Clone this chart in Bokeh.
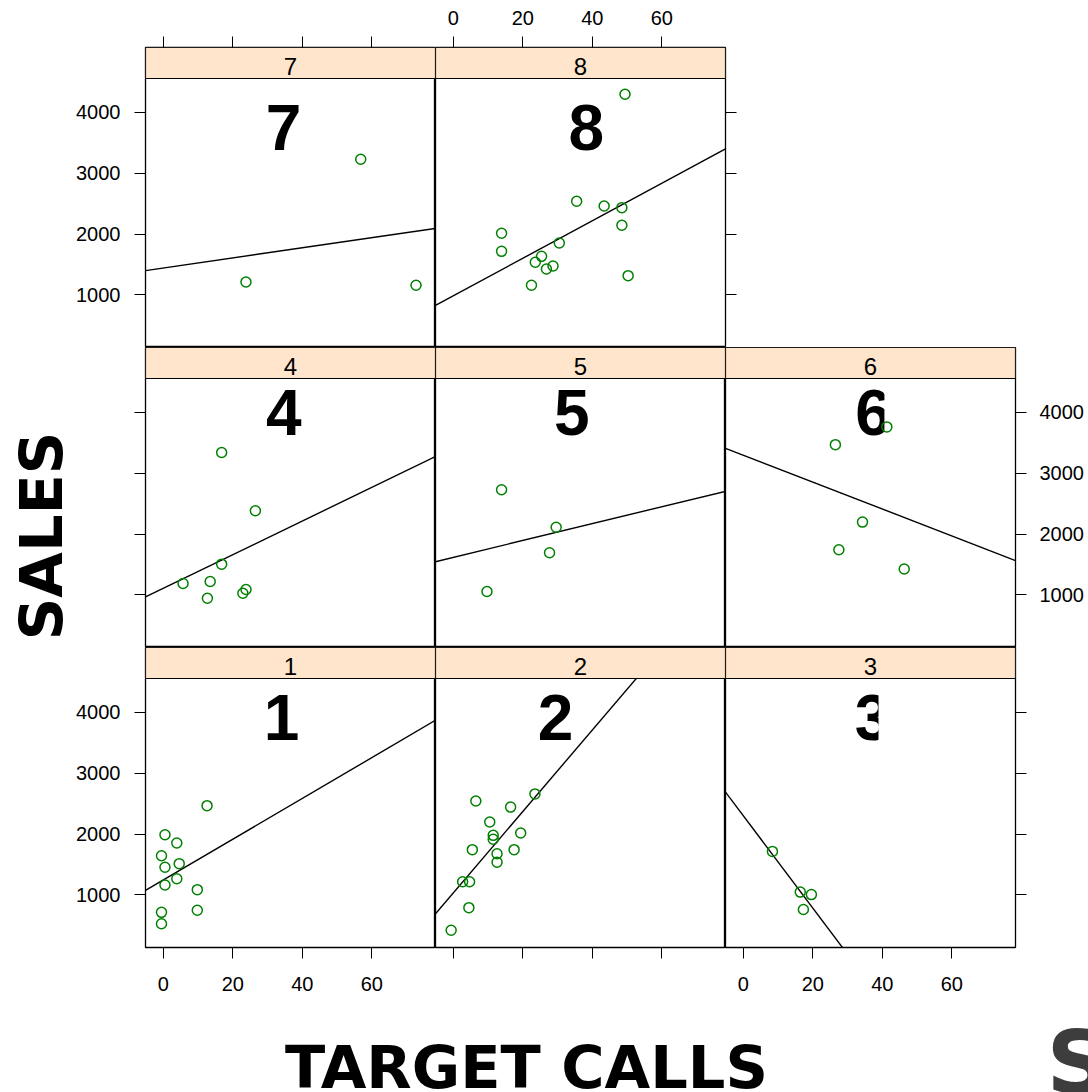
import numpy as np
from bokeh.plotting import figure
from bokeh.models import Range1d, LinearAxis, FixedTicker, Label
from bokeh.core.properties import value
from bokeh.layouts import row, column
from bokeh.embed import file_html
from bokeh.resources import INLINE

# ---- data: target calls vs. sales, one panel per territory ----
calls_t1 = [12.6, 0.5, 3.9, -0.5, 0.5, 4.6, 3.9, 0.5, 9.8, 9.8, -0.5, -0.5]
sales_t1 = [2466, 1989, 1853, 1644, 1454, 1513, 1266, 1163, 1086, 747, 714, 527]

calls_t2 = [-0.6, 4.5, 2.7, 4.7, 5.5, 6.5, 10.5, 11.5, 11.5, 12.6, 12.6, 16.5, 19.4, 17.5, 23.5]
sales_t2 = [419, 790, 1217, 1217, 1743, 2543, 2198, 1979, 1914, 1677, 1536, 2443, 2017, 1743, 2659]

calls_t3 = [8.4, 16.4, 19.6, 17.3]
sales_t3 = [1715, 1046, 1005, 760]

calls_t4 = [16.8, 26.5, 16.8, 5.7, 13.5, 12.7, 23.8, 22.9]
sales_t4 = [3340, 2382, 1505, 1187, 1220, 946, 1089, 1028]

calls_t5 = [13.9, 29.6, 27.7, 9.7]
sales_t5 = [2727, 2112, 1692, 1056]

calls_t6 = [26.5, 41.3, 34.3, 27.5, 46.3]
sales_t6 = [3468, 3760, 2196, 1741, 1425]

calls_t7 = [23.8, 56.8, 72.7]
sales_t7 = [1212, 3228, 1158]

calls_t8 = [49.4, 35.5, 43.4, 48.5, 48.5, 13.9, 13.9, 30.5, 25.4, 23.6, 28.7, 26.8, 22.5, 50.3]
sales_t8 = [4296, 2538, 2461, 2433, 2144, 2012, 1716, 1853, 1634, 1536, 1475, 1426, 1158, 1316]

territories = [1, 2, 3, 4, 5, 6, 7, 8]
x_ticks = [0, 20, 40, 60]
y_ticks = [1000, 2000, 3000, 4000]

CALLS = {1: calls_t1, 2: calls_t2, 3: calls_t3, 4: calls_t4,
         5: calls_t5, 6: calls_t6, 7: calls_t7, 8: calls_t8}
SALES = {1: sales_t1, 2: sales_t2, 3: sales_t3, 4: sales_t4,
         5: sales_t5, 6: sales_t6, 7: sales_t7, 8: sales_t8}

# ---- layout / style ----
X_LIM = (-5.1, 78.3)
Y_LIM = (136.0, 4555.0)
PANEL_W, PANEL_H, STRIP_H = 290, 269, 31
UNITS_PER_PX = (Y_LIM[1] - Y_LIM[0]) / PANEL_H
STRIP_TOP = Y_LIM[1] + STRIP_H * UNITS_PER_PX
STRIP_TEXT_Y = Y_LIM[1] + 12.3 * UNITS_PER_PX

SIDE_W = 70          # column that carries the vertical axis title
LEFT_BORDER = 75     # room for the y tick labels of the first column
GRID_H = 347 + 300 + 360
PAGE_W, PAGE_H = 1088, 1092
FOOT_H = PAGE_H - GRID_H
CORNER_W = 48        # bottom-right corner with the cropped emblem letter

GREEN = "#008000"
STRIP_FILL = "#ffe5cc"
TICK_FONT = "Liberation Sans"
TITLE_FONT = "DejaVu Sans"

# anchor of the large territory number inside each panel (data units)
BIG_LABEL_POS = {7: (34.6, 3750), 8: (38.3, 3750),
                 4: (34.7, 4000), 5: (34.1, 4000), 6: (37.3, 4000),
                 1: (34.0, 3920), 2: (29.4, 3920), 3: (37.2, 3920)}
# white patches that trim the right side of some of the large numbers
NUMBER_MASKS = {6: (40.6, 44.5, 3480, 4420), 3: (38.9, 43.0, 3440, 4380)}

x_range = Range1d(*X_LIM)
y_range = Range1d(Y_LIM[0], STRIP_TOP)


def add_axis(p, side, labelled):
    ticks = x_ticks if side in ("above", "below") else y_ticks
    ax = LinearAxis(ticker=FixedTicker(ticks=ticks))
    ax.axis_line_color = None
    ax.major_tick_in = 0
    ax.major_tick_out = 11
    ax.major_tick_line_color = "black"
    ax.major_tick_line_width = 1
    ax.minor_tick_line_color = None
    ax.major_label_text_font = TICK_FONT
    ax.major_label_text_font_size = "20px"
    ax.major_label_text_color = "black"
    ax.major_label_standoff = {"left": 14, "right": 13, "above": 12, "below": 18}[side]
    if not labelled:
        ax.major_label_overrides = {t: "" for t in ticks}
    p.add_layout(ax, side)


def bare_figure(**kw):
    p = figure(x_axis_location=None, y_axis_location=None, title=None,
               toolbar_location=None, output_backend="svg", **kw)
    p.grid.visible = False
    p.background_fill_color = "white"
    p.border_fill_color = "white"
    return p


def panel(n, borders, axes):
    left, right, top, bottom = borders
    p = bare_figure(frame_width=PANEL_W, frame_height=PANEL_H + STRIP_H,
                    x_range=x_range, y_range=y_range,
                    min_border_left=left, min_border_right=right,
                    min_border_top=top, min_border_bottom=bottom)
    p.outline_line_color = "black"
    p.outline_line_width = 1.3

    xs = np.array(CALLS[n], dtype=float)
    ys = np.array(SALES[n], dtype=float)

    # least-squares fit across the full panel width
    slope, intercept = np.polyfit(xs, ys, 1)
    line_x = np.array(X_LIM)
    p.line(line_x, slope * line_x + intercept, line_color="black", line_width=1.4)

    # large territory number
    bx, by = BIG_LABEL_POS[n]
    p.text(x=[bx], y=[by], text=[str(n)], text_font=value(TICK_FONT),
           text_font_style="bold", text_font_size=value("64px"),
           text_align="center", text_baseline="alphabetic", text_color="black")
    if n in NUMBER_MASKS:
        mx0, mx1, my0, my1 = NUMBER_MASKS[n]
        p.quad(left=[mx0], right=[mx1], bottom=[my0], top=[my1],
               fill_color="white", line_color=None)

    p.scatter(xs, ys, marker="circle", size=10, fill_color=None,
              line_color=GREEN, line_width=1.5)

    # strip with the territory number
    p.quad(left=[X_LIM[0]], right=[X_LIM[1]], bottom=[Y_LIM[1]], top=[STRIP_TOP],
           fill_color=STRIP_FILL, line_color="black", line_width=1.2)
    p.add_layout(Label(x=(X_LIM[0] + X_LIM[1]) / 2, y=STRIP_TEXT_Y, text=str(n),
                       text_font=TICK_FONT, text_font_size="24px",
                       text_align="center", text_baseline="alphabetic",
                       text_color="black"))

    for side, labelled in axes:
        add_axis(p, side, labelled)
    return p


# borders: (left, right, top, bottom)
p7 = panel(7, (LEFT_BORDER, 0, 47, 0), [("left", True), ("above", False)])
p8 = panel(8, (0, 30, 47, 0), [("above", True), ("right", False)])

p4 = panel(4, (LEFT_BORDER, 0, 0, 0), [("left", False)])
p5 = panel(5, (0, 0, 0, 0), [])
p6 = panel(6, (0, 73, 0, 0), [("right", True)])

p1 = panel(1, (LEFT_BORDER, 0, 0, 60), [("left", True), ("below", True)])
p2 = panel(2, (0, 0, 0, 60), [("below", False)])
p3 = panel(3, (0, 30, 0, 60), [("below", True), ("right", False)])

# side column with the vertical axis title (page pixels, y up)
side = bare_figure(width=SIDE_W, height=GRID_H, x_range=Range1d(0, SIDE_W),
                   y_range=Range1d(0, GRID_H), min_border=0)
side.outline_line_color = None
side.add_layout(Label(x=41, y=GRID_H - 535.5, text="SALES", angle=np.pi / 2,
                      angle_units="rad", text_font=TITLE_FONT, text_font_style="bold",
                      text_font_size="59px", text_align="center",
                      text_baseline="alphabetic", text_color="black"))

# footer with the horizontal axis title
foot = bare_figure(width=PAGE_W - CORNER_W, height=FOOT_H,
                   x_range=Range1d(0, PAGE_W - CORNER_W),
                   y_range=Range1d(0, FOOT_H), min_border=0)
foot.outline_line_color = None
foot.add_layout(Label(x=526, y=25, text="TARGET CALLS", text_font=TITLE_FONT,
                      text_font_style="bold", text_font_size="59px",
                      text_align="center", text_baseline="alphabetic", text_color="black"))

# corner piece holding the large grey letter that runs off the page
corner = bare_figure(width=CORNER_W, height=FOOT_H, x_range=Range1d(0, CORNER_W),
                     y_range=Range1d(0, FOOT_H), min_border=0)
corner.outline_line_color = None
corner.text(x=[6], y=[30], text=["S"], text_font=value(TITLE_FONT),
            text_font_style="bold", text_font_size=value("88px"),
            text_align="left", text_baseline="alphabetic", text_color="#3d3d3d")

grid = column(row(p7, p8), row(p4, p5, p6), row(p1, p2, p3))
page = column(row(side, grid), row(foot, corner))

with open("out.html", "w") as f:
    f.write(file_html(page, INLINE))
